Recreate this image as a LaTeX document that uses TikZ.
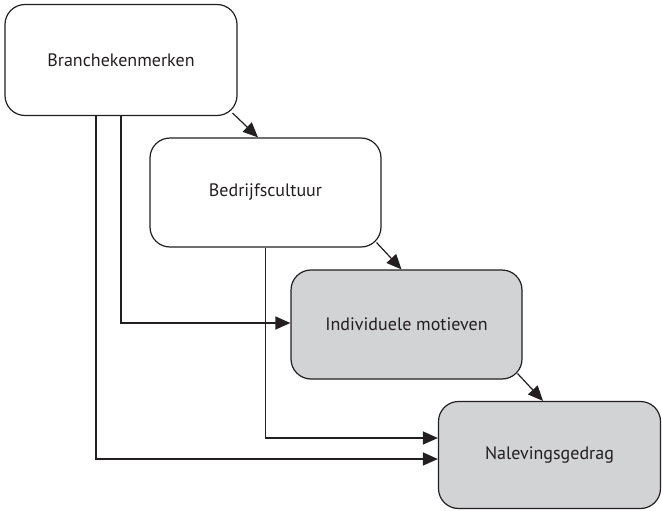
\documentclass[tikz,border=0pt]{standalone}
\usepackage{fontspec}
\setmainfont{PT Sans}
\usetikzlibrary{arrows.meta,calc}
\definecolor{ink}{HTML}{231F20}
\definecolor{boxgray}{HTML}{D2D3D5}
\tikzset{
  box/.style={draw=ink, line width=1.2pt, rounded corners=20pt, rectangle,
    inner sep=0pt, text=ink, font=\fontsize{18}{20}\selectfont},
  graybox/.style={box, fill=boxgray},
  conn/.style={draw=ink, line width=1.2pt, -{Triangle[length=15pt,width=13pt]}}
}
\begin{document}
\begin{tikzpicture}[x=1pt,y=-1pt]
\useasboundingbox (0,0) rectangle (662,511);
\node[box, minimum width=232pt, minimum height=111pt] (b1) at (121,60) {Branchekenmerken};
\node[box, minimum width=231pt, minimum height=109pt] (b2) at (265.5,192.5) {Bedrijfscultuur};
\node[graybox, minimum width=231pt, minimum height=109pt] (b3) at (406.5,324.5) {Individuele motieven};
\node[graybox, minimum width=222pt, minimum height=107pt] (b4) at (549.5,455) {Nalevingsgedrag};
\draw[conn] ([xshift=-5pt,yshift=3pt]b1.south east) -- ([xshift=-7.5pt]b2.north);
\draw[conn] ([xshift=-5pt,yshift=5pt]b2.south east) -- ([xshift=-5pt]b3.north);
\draw[conn] ([xshift=-5pt,yshift=6pt]b3.south east) -- ([xshift=-6.5pt]b4.north);
\draw[conn] (b1.south) |- ([yshift=1.5pt]b3.west);
\draw[conn] ([xshift=-25pt]b1.south) |- ([yshift=-4pt]b4.west);
\draw[conn] (b2.south) |- ([yshift=17pt]b4.west);
\end{tikzpicture}
\end{document}
